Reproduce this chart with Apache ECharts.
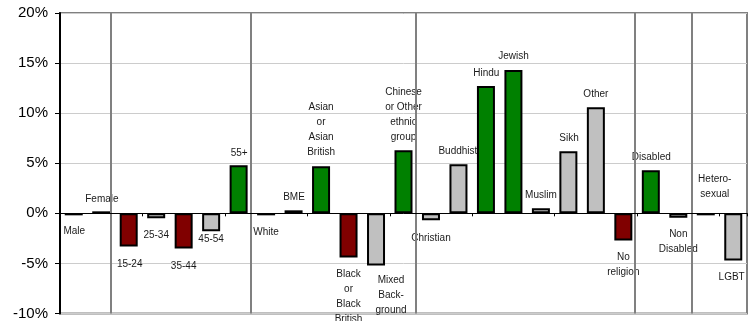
<!DOCTYPE html>
<html>
<head>
<meta charset="utf-8">
<script src="https://cdn.jsdelivr.net/npm/echarts@6/dist/echarts.min.js"></script>
<style>
  html, body { margin: 0; padding: 0; background: #fff; }
  #chart { width: 754px; height: 321px; }
</style>
</head>
<body>
<div id="chart"></div>
<script>
// ---- Data ----
const categories = ['Male', 'Female', '15-24', '25-34', '35-44', '45-54', '55+',
  'White', 'BME', 'Asian\nor\nAsian\nBritish', 'Black\nor\nBlack\nBritish', 'Mixed\nBack-\nground',
  'Chinese\nor Other\nethnic\ngroup', 'Christian', 'Buddhist', 'Hindu', 'Jewish', 'Muslim', 'Sikh',
  'Other', 'No\nreligion', 'Disabled', 'Non\nDisabled', 'Hetero-\nsexual', 'LGBT'];
const values = [-0.2, 0.2, -3.3, -0.5, -3.5, -1.8, 4.8,
  -0.2, 0.3, 4.7, -4.4, -5.2,
  6.3, -0.7, 4.9, 12.7, 14.3, 0.5, 6.2,
  10.6, -2.7, 4.3, -0.45, -0.2, -4.7];
// significance: 'high' = significantly over, 'low' = significantly under, 'none' = not significant
const significance = ['none', 'none', 'low', 'none', 'low', 'none', 'high',
  'none', 'none', 'high', 'low', 'none',
  'high', 'none', 'none', 'high', 'high', 'none', 'none',
  'none', 'low', 'high', 'none', 'none', 'none'];
// group separators (position along the category axis)
const groupBreaks = [1.33, 6.44, 12.46, 20.43, 22.49];
const yTicks = { min: -10, max: 20, interval: 5 };

// ---- Styles ----
const colorMap = { high: '#008000', low: '#800000', none: '#C0C0C0' };
const labelAbove = [false, true, false, false, false, false, true,
  false, true, true, false, false,
  true, false, true, true, true, true, true,
  true, false, true, false, true, false];
const labelOffsets = [
  [0.5, 3], [0.7, 0.5], [1, 5], [0, 4.5], [0, 5], [0, -4.5], [0.5, 0],
  [0, 4.5], [0.4, -0.5], [0, -1.3], [0, 4.5], [15, 2],
  [0, -0.5], [0, 5], [-0.6, -1], [0.4, -0.8], [0, -1], [0, -1], [0.7, 0],
  [0, -0.7], [0, 4], [0.5, -1], [0, 4.3], [9, -7], [-1.6, 4]
];
const FONT = "'Liberation Sans', Arial, sans-serif";

const barData = values.map((v, i) => ({
  value: v,
  itemStyle: { color: colorMap[significance[i]] },
  label: { position: labelAbove[i] ? 'top' : 'bottom', offset: labelOffsets[i] }
}));

const chart = echarts.init(document.getElementById('chart'), null, { renderer: 'canvas' });
chart.setOption({
  animation: false,
  backgroundColor: '#fff',
  grid: {
    left: 60, right: 7, top: 13, bottom: 6,
    show: true, borderColor: '#808080', borderWidth: 2, backgroundColor: 'transparent'
  },
  xAxis: [
    {
      type: 'category',
      data: categories,
      axisLine: { onZero: true, lineStyle: { color: '#000', width: 1 } },
      axisTick: { show: true, length: 3, lineStyle: { color: '#000' } },
      axisLabel: { show: false },
      splitLine: { show: false },
      z: 5
    },
    {
      type: 'value',
      min: -0.5, max: 24.5,
      show: false,
      axisLine: { onZero: false },
      splitLine: { show: false }
    }
  ],
  yAxis: {
    type: 'value',
    min: yTicks.min, max: yTicks.max, interval: yTicks.interval,
    axisLine: { show: true, onZero: false, lineStyle: { color: '#000', width: 2 } },
    axisTick: { show: true, length: 5, lineStyle: { color: '#000', width: 1 } },
    axisLabel: {
      formatter: '{value}%', color: '#000', fontFamily: FONT, fontSize: 15, margin: 12
    },
    splitLine: { show: true, lineStyle: { color: '#cccccc', width: 1 } }
  },
  series: [
    {
      type: 'bar',
      xAxisIndex: 0,
      data: barData,
      barWidth: 18,
      itemStyle: { borderColor: '#000', borderWidth: 2 },
      label: {
        show: true,
        distance: 5,
        formatter: (p) => categories[p.dataIndex],
        color: '#1a1a1a',
        fontFamily: FONT,
        fontSize: 10,
        lineHeight: 15,
        align: 'center'
      },
      z: 3
    },
    {
      type: 'scatter',
      xAxisIndex: 1,
      data: [],
      silent: true,
      markLine: {
        silent: true,
        symbol: 'none',
        label: { show: false },
        lineStyle: { color: '#808080', width: 2, type: 'solid' },
        data: groupBreaks.map(x => ({ xAxis: x }))
      },
      z: 4
    }
  ]
});
</script>
</body>
</html>
